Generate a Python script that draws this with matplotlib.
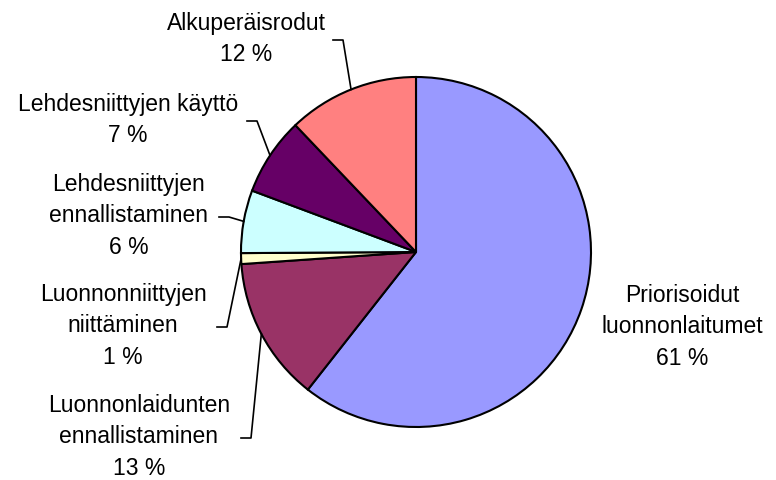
import numpy as np
import matplotlib
matplotlib.use("Agg")
import matplotlib.pyplot as plt

# porcentajes (sentido horario desde arriba)
nombres = ["Priorisoidut\nluonnonlaitumet", "Luonnonlaidunten\nennallistaminen",
           "Luonnonniittyjen\nniittäminen", "Lehdesniittyjen\nennallistaminen",
           "Lehdesniittyjen käyttö", "Alkuperäisrodut"]
valores = [60.6, 13.3, 1.0, 5.8, 7.2, 12.1]
colores = ["#9999FF", "#993366", "#FFFFCC", "#CCFFFF", "#660066", "#FF8080"]

# posiciones de las etiquetas (en píxeles) y borde derecho de la caja
pos_txt = [(682, 327), (139, 437), (123, 326), (129, 216), (128, 120), (246, 39)]
borde = [None, 241, 217, 219, 247, 333]
codo = 10

centro = (416, 253)
radio = 175

fig = plt.figure(figsize=(7.76, 4.81), dpi=100)
ax = fig.add_axes([0, 0, 1, 1])
plt.rcParams["font.family"] = ["Liberation Sans", "DejaVu Sans"]

# eje y invertido: counterclock=True se ve en sentido horario
cunas, _ = ax.pie(valores, colors=colores, startangle=-90, counterclock=True,
                  center=centro, radius=radio,
                  wedgeprops=dict(edgecolor="black", linewidth=1.5))
ax.set_xlim(0, 776)
ax.set_ylim(481, 0)
ax.set_aspect("auto")
ax.axis("off")

for i, c in enumerate(cunas):
    etiqueta = "%s\n%d %%" % (nombres[i], round(valores[i]))
    tx, ty = pos_txt[i]
    ax.text(tx, ty, etiqueta, ha="center", va="center", multialignment="center",
            fontsize=16.5, family=["Liberation Sans", "DejaVu Sans"], linespacing=1.45)
    if borde[i] is None:
        continue
    ang = np.deg2rad((c.theta1 + c.theta2) / 2)
    px = centro[0] + radio * np.cos(ang)
    py = centro[1] + radio * np.sin(ang)
    x0 = borde[i]
    ax.plot([x0, x0 + codo, px], [ty + 2, ty + 2, py], color="black", lw=1.2)

fig.savefig("out.png", dpi=100)
